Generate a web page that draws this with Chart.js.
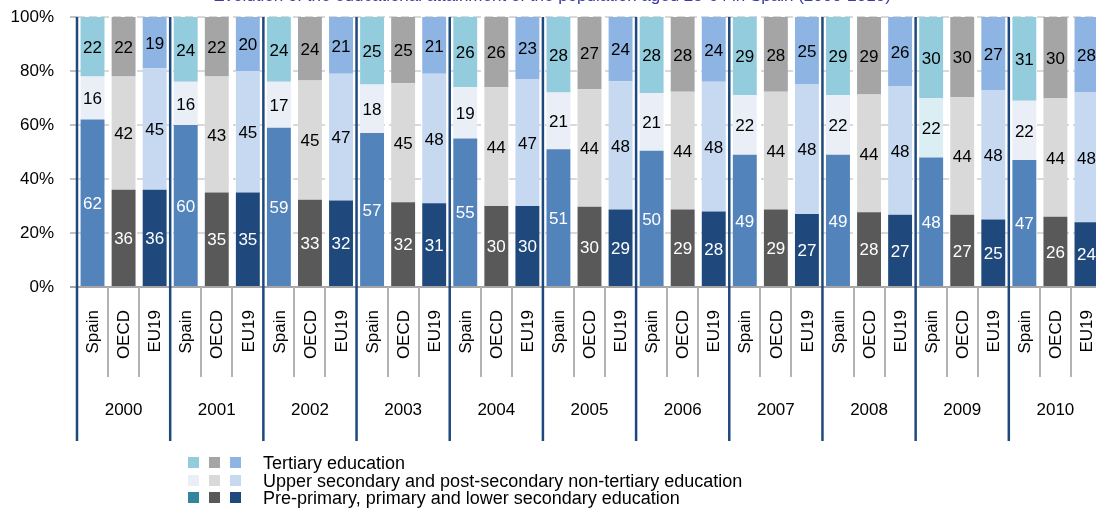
<!DOCTYPE html>
<html>
<head>
<meta charset="utf-8">
<script src="https://cdn.jsdelivr.net/npm/chart.js@4.4.0/dist/chart.umd.min.js"></script>
<style>
  html, body { margin: 0; padding: 0; background: #fff; overflow: hidden; }
  #wrap { position: relative; width: 1104px; height: 530px; }
</style>
</head>
<body>
<div id="wrap"><canvas id="chart" width="1104" height="530"></canvas></div>
<script>
const title = 'Evolution of the educational attainment of the population aged 25-64 in Spain (2000-2010)';
const years = ['2000', '2001', '2002', '2003', '2004', '2005', '2006', '2007', '2008', '2009', '2010'];
const regions = ['Spain', 'OECD', 'EU19'];
const levels = [
  'Pre-primary, primary and lower secondary education',
  'Upper secondary and post-secondary non-tertiary education',
  'Tertiary education'
];
const yTicks = [0, 20, 40, 60, 80, 100];

// values per year, 2000..2010
const spainLower    = [62, 60, 59, 57, 55, 51, 50, 49, 49, 48, 47];
const spainUpper    = [16, 16, 17, 18, 19, 21, 21, 22, 22, 22, 22];
const spainTertiary = [22, 24, 24, 25, 26, 28, 28, 29, 29, 30, 31];
const oecdLower     = [36, 35, 33, 32, 30, 30, 29, 29, 28, 27, 26];
const oecdUpper     = [42, 43, 45, 45, 44, 44, 44, 44, 44, 44, 44];
const oecdTertiary  = [22, 22, 24, 25, 26, 27, 28, 28, 29, 30, 30];
const eu19Lower     = [36, 35, 32, 31, 30, 29, 28, 27, 27, 25, 24];
const eu19Upper     = [45, 45, 47, 48, 47, 48, 48, 48, 48, 48, 48];
const eu19Tertiary  = [19, 20, 21, 21, 23, 24, 24, 25, 26, 27, 28];

const FONT = '"Liberation Sans", Arial, sans-serif';

// colours: [lower, upper, tertiary] per region
const barColors = {
  Spain: ['#5283bb', '#e9eef7', '#93cddd'],
  OECD:  ['#595959', '#d9d9d9', '#a5a5a5'],
  EU19:  ['#1f497d', '#c6d9f1', '#8eb4e3']
};
const legendColors = [
  ['#93cddd', '#a5a5a5', '#8eb4e3'],
  ['#e9eef7', '#d9d9d9', '#c6d9f1'],
  ['#31859c', '#595959', '#1f497d']
];

const byRegion = {
  Spain: [spainLower, spainUpper, spainTertiary],
  OECD:  [oecdLower, oecdUpper, oecdTertiary],
  EU19:  [eu19Lower, eu19Upper, eu19Tertiary]
};

// flatten into 33 bars: year x region
const labels = [];
const raw = [[], [], []];
const colors = [[], [], []];
years.forEach((yr, yi) => {
  regions.forEach(r => {
    labels.push(r);
    for (let l = 0; l < 3; l++) {
      raw[l].push(byRegion[r][l][yi]);
      colors[l].push(barColors[r][l]);
    }
  });
});
colors[1][27] = '#dbeef4'; // Spain 2009 upper secondary is tinted differently

// 100% stacked: scale each bar by its own total
const totals = labels.map((_, i) => raw[0][i] + raw[1][i] + raw[2][i]);
const pct = raw.map(arr => arr.map((v, i) => v / totals[i] * 100));

const decor = {
  id: 'decor',
  afterDatasetsDraw(chart) {
    const {ctx, chartArea: area, scales: {x}} = chart;
    const step = (area.right - area.left) / labels.length;
    ctx.save();

    // labels in the segments
    ctx.font = '17px ' + FONT;
    ctx.textAlign = 'center';
    ctx.textBaseline = 'middle';
    chart.data.datasets.forEach((ds, i) => {
      chart.getDatasetMeta(i).data.forEach((bar, j) => {
        ctx.fillStyle = i === 0 ? '#ffffff' : '#000000';
        ctx.fillText(String(ds.raw[j]), bar.x, (bar.y + bar.base) / 2 + 1.5);
      });
    });

    // 0% line
    ctx.strokeStyle = '#a6a6a6';
    ctx.lineWidth = 2;
    ctx.beginPath();
    ctx.moveTo(area.left - 7, area.bottom);
    ctx.lineTo(area.right, area.bottom);
    ctx.stroke();

    // small ticks between bars inside a year
    ctx.strokeStyle = '#b3b3b3';
    for (let k = 1; k < labels.length; k++) {
      if (k % 3 === 0) continue;
      const xx = Math.round(area.left + k * step);
      ctx.beginPath();
      ctx.moveTo(xx, area.bottom);
      ctx.lineTo(xx, area.bottom + 90);
      ctx.stroke();
    }

    // year separators
    ctx.strokeStyle = '#1f497d';
    ctx.lineWidth = 2.5;
    for (let g = 0; g <= years.length; g++) {
      const xx = area.left + g * 3 * step;
      ctx.beginPath();
      ctx.moveTo(xx, area.top);
      ctx.lineTo(xx, 441);
      ctx.stroke();
    }

    // rotated region names
    ctx.fillStyle = '#000';
    ctx.font = '17px ' + FONT;
    ctx.textAlign = 'right';
    ctx.textBaseline = 'middle';
    labels.forEach((lab, i) => {
      ctx.save();
      ctx.translate(x.getPixelForValue(i) + 1, area.bottom + 23);
      ctx.rotate(-Math.PI / 2);
      ctx.fillText(lab, 0, 0);
      ctx.restore();
    });

    // years
    ctx.textAlign = 'center';
    years.forEach((yr, g) => {
      ctx.fillText(yr, area.left + (g * 3 + 1.5) * step, 410);
    });

    // legend
    const rows = [levels[2], levels[1], levels[0]];
    const rowY = [463, 481, 498];
    const swX = [188, 209, 230];
    ctx.font = '18px ' + FONT;
    ctx.textAlign = 'left';
    rows.forEach((txt, r) => {
      legendColors[r].forEach((c, k) => {
        ctx.fillStyle = c;
        ctx.fillRect(swX[k], rowY[r] - 6, 11, 11);
      });
      ctx.fillStyle = '#000';
      ctx.fillText(txt, 263, rowY[r] + 1);
    });

    // title, mostly cut off by the top edge
    ctx.fillStyle = '#3a3aa8';
    ctx.font = '17px ' + FONT;
    ctx.textBaseline = 'alphabetic';
    ctx.textAlign = 'center';
    ctx.fillText(title, 552, 1);

    ctx.restore();
  }
};

new Chart(document.getElementById('chart'), {
  type: 'bar',
  data: {
    labels: labels,
    datasets: levels.map((lab, l) => ({
      label: lab,
      data: pct[l],
      raw: raw[l],
      backgroundColor: colors[l],
      borderWidth: 0,
      barPercentage: 0.77,
      categoryPercentage: 1
    }))
  },
  options: {
    responsive: false,
    devicePixelRatio: 1,
    animation: false,
    layout: {padding: {top: 17, bottom: 243, left: 0, right: 2}},
    plugins: {legend: {display: false}, title: {display: false}, tooltip: {enabled: false}},
    scales: {
      x: {stacked: true, display: false},
      y: {
        stacked: true,
        min: 0,
        max: 100,
        afterBuildTicks: s => { s.ticks = yTicks.map(v => ({value: v})); },
        afterFit: s => {
          s.width = 77;
          s.paddingTop = 0;
          s.paddingBottom = 0;
        },
        ticks: {
          callback: v => v + '%',
          font: {family: FONT, size: 17},
          color: '#000',
          padding: 16
        },
        grid: {
          color: '#d9d9d9',
          lineWidth: 2,
          tickLength: 7,
          tickColor: '#c0c0c0',
          tickBorderDash: []
        },
        border: {display: false, dash: [8, 4]}
      }
    }
  },
  plugins: [decor]
});
</script>
</body>
</html>
